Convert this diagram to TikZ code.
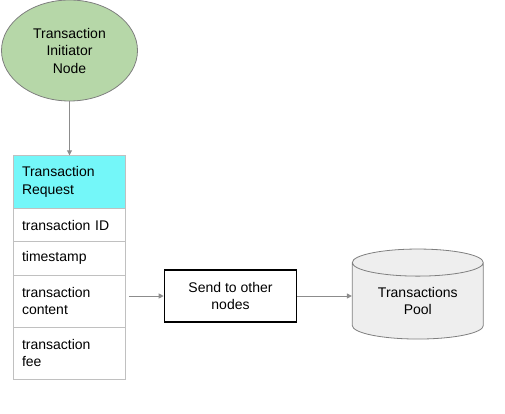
\documentclass[tikz,border=0pt]{standalone}
\usepackage{fontspec}
\setmainfont{Liberation Sans}
\usepackage{tikz}
\usetikzlibrary{
  shapes.geometric,
  arrows.meta,
  positioning
}
\definecolor{initgreen}  {HTML}{B6D7A8}
\definecolor{reqcyan}    {HTML}{74F7F9}
\definecolor{poolgray}   {HTML}{EEEEEE}
\definecolor{rowgray}    {HTML}{C0C0C0}
\definecolor{outlinegray}{HTML}{7F7F7F}
\definecolor{arrowcol}   {HTML}{8C8C8C}
\newcommand\diafont{\fontsize{14}{17.5}\selectfont}
\tikzset{
  initnode/.style={
    ellipse, minimum width=136pt, minimum height=101pt,
    inner sep=0pt, align=center, font=\diafont,
    draw=outlinegray, fill=initgreen, line width=0.8pt
  },
  reqrow/.style={
    rectangle, minimum height=#1,
    text width=95pt, inner xsep=8.5pt, inner ysep=0pt,
    align=left, font=\diafont,
    draw=rowgray, fill=white, line width=0.8pt
  },
  sendnode/.style={
    rectangle, minimum width=132pt, minimum height=51.5pt,
    align=center, font=\diafont,
    draw=black, line width=1.6pt
  },
  poolnode/.style={
    cylinder, shape border rotate=90, aspect=0.34,
    minimum width=131pt, minimum height=90pt,
    inner sep=0pt, align=center, font=\diafont,
    draw=outlinegray, fill=poolgray, line width=0.8pt
  },
  myarrow/.style={-{Triangle[length=5pt,width=5pt]}, line width=0.9pt, color=arrowcol}
}

\begin{document}
\begin{tikzpicture}[x=1pt, y=-1pt]
  \useasboundingbox (0,0) rectangle (505,413);

  \node[initnode] (init) at (69.5,50.5) {Transaction\\Initiator\\Node};

  \node[reqrow=52.6pt, fill=reqcyan] (req) at (69.5,182) {Transaction\\Request};
  \node[reqrow=33.4pt, below=-0.8pt of req] (rid) {transaction ID};
  \node[reqrow=33.3pt, below=-0.8pt of rid] (rtime) {timestamp};
  \node[reqrow=52pt, below=-0.8pt of rtime] (rcont) {transaction\\content};
  \node[reqrow=52.3pt, below=-0.8pt of rcont] (rfee) {transaction\\fee};

  \node[sendnode] (send) at (230.5,296) {Send to other\\nodes};
  \node[poolnode] (pool) at (417.8,301) {Transactions\\Pool};

  \draw[myarrow] (init) -- (req);
  \draw[myarrow, shorten <=3pt] (rcont.east |- send.west) -- (send.west);
  \draw[myarrow] (send) -- (pool.west |- send.east);

\end{tikzpicture}
\end{document}
